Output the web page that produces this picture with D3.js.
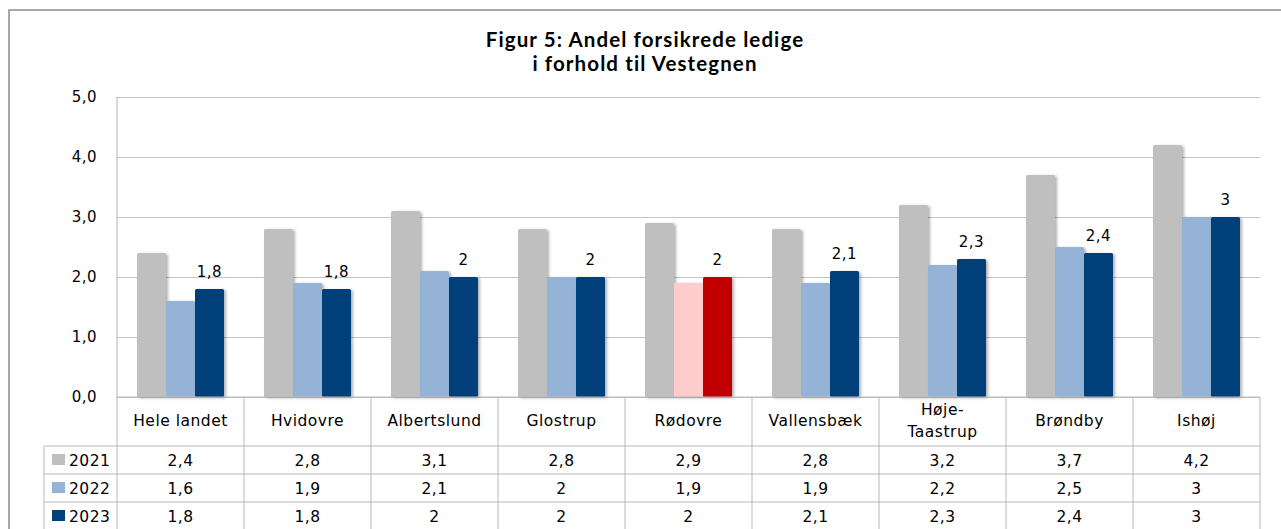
<!DOCTYPE html>
<html>
<head>
<meta charset="utf-8">
<script src="https://cdn.jsdelivr.net/npm/d3@7"></script>
<style>
  body { margin: 0; background: #fff; }
  svg { display: block; }
  text { font-family: "DejaVu Sans", Verdana, sans-serif; fill: #000; }
</style>
</head>
<body>
<div class="chart"></div>
<script>
// chart data
const categories = ["Hele landet", "Hvidovre", "Albertslund", "Glostrup", "Rødovre", "Vallensbæk", "Høje-Taastrup", "Brøndby", "Ishøj"];
const years = ["2021", "2022", "2023"];
const v2021 = [2.4, 2.8, 3.1, 2.8, 2.9, 2.8, 3.2, 3.7, 4.2];
const v2022 = [1.6, 1.9, 2.1, 2, 1.9, 1.9, 2.2, 2.5, 3];
const v2023 = [1.8, 1.8, 2, 2, 2, 2.1, 2.3, 2.4, 3];
const yTicks = [0, 1, 2, 3, 4, 5];
const highlight = "Rødovre";
const titleLines = ["Figur 5: Andel forsikrede ledige", "i forhold til Vestegnen"];

const series = [v2021, v2022, v2023];
const colors = ["#bfbfbf", "#95b3d7", "#00417a"];
const hiColors = ["#bfbfbf", "#ffcccc", "#c00000"];

const W = 1281, H = 529;
const plot = {left: 117, right: 1260, top: 97, bottom: 397};
const rowH = 28;
const tableTop = 446; // first data row

const svg = d3.select(".chart").append("svg")
  .attr("width", W).attr("height", H);

// soft shadow like the original
const defs = svg.append("defs");
defs.append("filter").attr("id", "shadow")
  .attr("x", "-20%").attr("y", "-10%").attr("width", "150%").attr("height", "130%")
  .append("feDropShadow")
  .attr("dx", 2).attr("dy", 1).attr("stdDeviation", 1.5)
  .attr("flood-color", "#000").attr("flood-opacity", 0.3);

// outer frame
svg.append("path")
  .attr("d", "M9," + H + " V10 H" + W)
  .attr("fill", "none").attr("stroke", "#8c8c8c").attr("stroke-width", 1.5);

// title
svg.append("g").selectAll("text")
  .data(titleLines)
  .join("text")
  .attr("x", 645)
  .attr("y", (d, i) => 47 + i * 24)
  .attr("text-anchor", "middle")
  .style("font-family", "Lato, 'Open Sans', sans-serif")
  .style("font-weight", "bold")
  .style("font-size", "20.5px")
  .style("letter-spacing", "1.1px")
  .text(d => d);

const x = d3.scaleBand().domain(categories).range([plot.left, plot.right]);
const xs = d3.scaleBand().domain(years).range([20, x.bandwidth() - 20]);
const y = d3.scaleLinear().domain([0, 5]).range([plot.bottom, plot.top]);

const fmt = d3.formatLocale({decimal: ",", thousands: ".", grouping: [3], currency: ["", " kr"]});

// gridlines
svg.append("g")
  .attr("transform", "translate(" + plot.left + ",0)")
  .call(d3.axisRight(y).tickValues(yTicks).tickSize(plot.right - plot.left).tickFormat(""))
  .call(g => g.select(".domain").remove())
  .call(g => g.selectAll("line").attr("stroke", "#c4c4c4").attr("stroke-width", 1));

// y axis labels
svg.append("g")
  .attr("transform", "translate(" + plot.left + ",0)")
  .call(d3.axisLeft(y).tickValues(yTicks).tickSize(0).tickPadding(20).tickFormat(fmt.format(".1f")))
  .call(g => g.select(".domain").remove())
  .call(g => g.selectAll("text").style("font-size", "15px").style("letter-spacing", "0.5px")
    .style("font-family", "'DejaVu Sans', sans-serif").attr("fill", "#000"));

// left axis line
svg.append("line")
  .attr("x1", plot.left).attr("x2", plot.left)
  .attr("y1", plot.top).attr("y2", plot.bottom)
  .attr("stroke", "#b0b0b0");

// bars
const groups = svg.append("g").selectAll("g")
  .data(categories)
  .join("g")
  .attr("transform", d => "translate(" + x(d) + ",0)");

groups.selectAll("rect")
  .data((c, ci) => years.map((yr, si) => ({c, yr, si, v: series[si][ci]})))
  .join("rect")
  .attr("x", d => xs(d.yr))
  .attr("width", xs.bandwidth())
  .attr("y", d => y(d.v))
  .attr("height", d => y(0) - y(d.v))
  .attr("rx", 1.5)
  .attr("fill", d => d.c === highlight ? hiColors[d.si] : colors[d.si])
  .attr("filter", "url(#shadow)");

// data labels for 2023
groups.append("text")
  .attr("x", xs("2023") + xs.bandwidth() / 2)
  .attr("y", (c, ci) => y(v2023[ci]) - 12)
  .attr("text-anchor", "middle")
  .style("font-size", "15px")
  .style("letter-spacing", "0.5px")
  .text((c, ci) => String(v2023[ci]).replace(".", ","));

// data table
const table = svg.append("g");
const lineColor = "#b8b8b8";
const legendLeft = 44;

// horizontal lines
table.append("line")
  .attr("x1", plot.left).attr("x2", plot.right)
  .attr("y1", plot.bottom).attr("y2", plot.bottom)
  .attr("stroke", lineColor);
[0, 1, 2, 3].forEach(i => {
  table.append("line")
    .attr("x1", legendLeft).attr("x2", plot.right)
    .attr("y1", tableTop + i * rowH).attr("y2", tableTop + i * rowH)
    .attr("stroke", lineColor);
});

// vertical lines
const vx = categories.map(c => x(c)).concat([plot.right]);
table.selectAll(".vline")
  .data(vx)
  .join("line")
  .attr("x1", d => d).attr("x2", d => d)
  .attr("y1", plot.bottom).attr("y2", tableTop + 3 * rowH)
  .attr("stroke", lineColor);
table.append("line")
  .attr("x1", legendLeft).attr("x2", legendLeft)
  .attr("y1", tableTop).attr("y2", tableTop + 3 * rowH)
  .attr("stroke", lineColor);

// category labels
table.selectAll(".cat")
  .data(categories)
  .join("text")
  .attr("text-anchor", "middle")
  .attr("x", d => x(d) + x.bandwidth() / 2)
  .style("font-size", "15.5px")
  .style("letter-spacing", "0.5px")
  .each(function(d) {
    const parts = d === "Høje-Taastrup" ? ["Høje-", "Taastrup"] : [d];
    const t = d3.select(this);
    parts.forEach((p, i) => {
      t.append("tspan")
        .attr("x", x(d) + x.bandwidth() / 2)
        .attr("y", parts.length === 1 ? 426 : 415 + i * 22)
        .text(p);
    });
  });

// rows
years.forEach((yr, si) => {
  const ry = tableTop + si * rowH;
  table.append("rect")
    .attr("x", 52).attr("y", ry + 8)
    .attr("width", 13).attr("height", 11)
    .attr("fill", colors[si]);
  table.append("text")
    .attr("x", 69).attr("y", ry + 19.5)
    .style("font-size", "15.5px")
    .style("letter-spacing", "0.5px")
    .text(yr);
  table.selectAll(".val" + si)
    .data(categories)
    .join("text")
    .attr("text-anchor", "middle")
    .attr("x", d => x(d) + x.bandwidth() / 2)
    .attr("y", ry + 19.5)
    .style("font-size", "15.5px")
    .style("letter-spacing", "0.5px")
    .text((d, ci) => String(series[si][ci]).replace(".", ","));
});
</script>
</body>
</html>
